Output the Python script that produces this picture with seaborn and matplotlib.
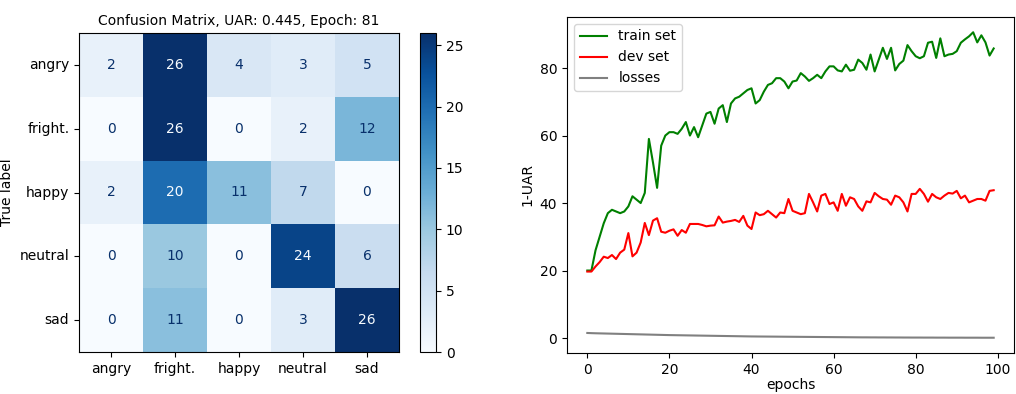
import numpy as np
import pandas as pd
import matplotlib
matplotlib.use("Agg")
import matplotlib.pyplot as plt
import seaborn as sns

labels = ["angry", "fright.", "happy", "neutral", "sad"]
cm_angry = [2, 26, 4, 3, 5]
cm_fright = [0, 26, 0, 2, 12]
cm_happy = [2, 20, 11, 7, 0]
cm_neutral = [0, 10, 0, 24, 6]
cm_sad = [0, 11, 0, 3, 26]
cm_title = "Confusion Matrix, UAR: 0.445, Epoch: 81"

train_set = [20, 20, 26, 30, 34, 37, 38, 37.5, 37, 37.5,
             39, 42, 41, 40, 43, 59, 52, 44.5, 57, 60,
             61, 61, 60.5, 62, 64, 60, 62.5, 59.5, 63, 66.5,
             67, 63.5, 68, 69, 64, 69.5, 71, 71.5, 72.5, 73.5,
             74, 69.5, 70.5, 73, 75, 75.5, 77, 77, 76, 74,
             76, 76.3, 78.5, 77.5, 76.2, 77, 78, 77, 79, 80.5,
             80.5, 79.3, 79, 81, 79.2, 79.5, 82.5, 81.5, 79.5, 84,
             79, 82.5, 86, 82.7, 86, 79.3, 81.2, 82.2, 86.8, 85,
             83.5, 82.9, 83.5, 87.5, 87.8, 83, 88.8, 83.5, 84, 84.2,
             85, 87.5, 88.5, 89.4, 90.6, 87.6, 89.7, 87.6, 83.7, 85.8]
dev_set = [19.7, 19.7, 21.2, 22.5, 24.1, 23.7, 24.6, 23.4, 25.3, 26.2,
           31.1, 24.2, 25.3, 28.3, 34.1, 30.5, 34.8, 35.5, 31.5, 31.2,
           31.8, 32.2, 30.3, 32, 31.2, 33.8, 33.8, 33.8, 33.5, 33.1,
           33.3, 33.4, 36, 34.2, 34.5, 34.7, 35, 34.4, 36.2, 33.3,
           32.3, 37.2, 36.4, 36.7, 37.7, 36.7, 35.7, 37.2, 37, 41.2,
           37.7, 37.2, 36.7, 37, 42.7, 40.2, 37.5, 42.2, 42.7, 39.7,
           40.2, 37.7, 42.7, 39.2, 41.7, 41.2, 39, 37.7, 40.5, 40.2,
           43, 42, 41.2, 41, 39.5, 42.2, 41.7, 40.2, 37.5, 42.7,
           42.7, 44.2, 42.7, 40.4, 42.7, 41.7, 41.2, 42.2, 43, 42.8,
           43.6, 41.4, 42.2, 40.2, 40.7, 41.2, 41.2, 40.7, 43.6, 43.8]
losses = [1.50, 1.45, 1.41, 1.38, 1.35, 1.32, 1.29, 1.26, 1.23, 1.20,
          1.17, 1.14, 1.11, 1.08, 1.05, 1.02, 0.99, 0.96, 0.93, 0.90,
          0.87, 0.85, 0.83, 0.81, 0.79, 0.77, 0.75, 0.73, 0.71, 0.69,
          0.67, 0.65, 0.63, 0.61, 0.59, 0.57, 0.55, 0.53, 0.51, 0.49,
          0.47, 0.46, 0.45, 0.44, 0.43, 0.42, 0.41, 0.40, 0.39, 0.38,
          0.37, 0.36, 0.35, 0.34, 0.33, 0.32, 0.31, 0.30, 0.29, 0.28,
          0.27, 0.26, 0.25, 0.24, 0.23, 0.22, 0.21, 0.20, 0.20, 0.19,
          0.19, 0.18, 0.18, 0.17, 0.17, 0.16, 0.16, 0.15, 0.15, 0.14,
          0.14, 0.14, 0.13, 0.13, 0.13, 0.12, 0.12, 0.12, 0.11, 0.11,
          0.11, 0.11, 0.10, 0.10, 0.10, 0.10, 0.09, 0.09, 0.09, 0.09]

W, H = 1016, 394
fig = plt.figure(figsize=(W / 100, H / 100), dpi=100)

def rect(x0, y0, x1, y1):
    return [x0 / W, (H - y1) / H, (x1 - x0) / W, (y1 - y0) / H]

ax1 = fig.add_axes(rect(79, 33, 399, 352))
cax = fig.add_axes(rect(420, 33, 436, 352))
ax2 = fig.add_axes(rect(567, 17, 1014, 353))

cm = pd.DataFrame([cm_angry, cm_fright, cm_happy, cm_neutral, cm_sad],
                  index=labels, columns=labels)
cmap = plt.get_cmap("Blues")
sns.heatmap(cm, ax=ax1, cbar_ax=cax, cmap=cmap, vmin=0, vmax=cm.values.max(),
            annot=True, fmt="d", annot_kws={"fontsize": 10})
vals = cm.values
thresh = (vals.max() + vals.min()) / 2.0
for t in ax1.texts:
    v = int(t.get_text())
    t.set_color(cmap(0.0) if v > thresh else cmap(1.0))
for s in ax1.spines.values():
    s.set_visible(True)
    s.set_linewidth(0.8)
ax1.set_yticklabels(labels, rotation=0)
ax1.set_xticklabels(labels, rotation=0)
ax1.set_ylabel("True label")
ax1.set_xlabel("")
ax1.set_title(cm_title, fontsize=10)
cb = ax1.collections[0].colorbar
cb.outline.set_visible(True)
cb.outline.set_linewidth(0.8)
cb.set_ticks([0, 5, 10, 15, 20, 25])

epochs = np.arange(len(train_set))
sns.lineplot(x=epochs, y=train_set, ax=ax2, color="green", label="train set")
sns.lineplot(x=epochs, y=dev_set, ax=ax2, color="red", label="dev set")
sns.lineplot(x=epochs, y=losses, ax=ax2, color="grey", label="losses")
ax2.set_xlabel("epochs", labelpad=1)
ax2.set_ylabel("1-UAR")
ax2.legend(loc="upper left")

fig.savefig("out.png", dpi=100)
